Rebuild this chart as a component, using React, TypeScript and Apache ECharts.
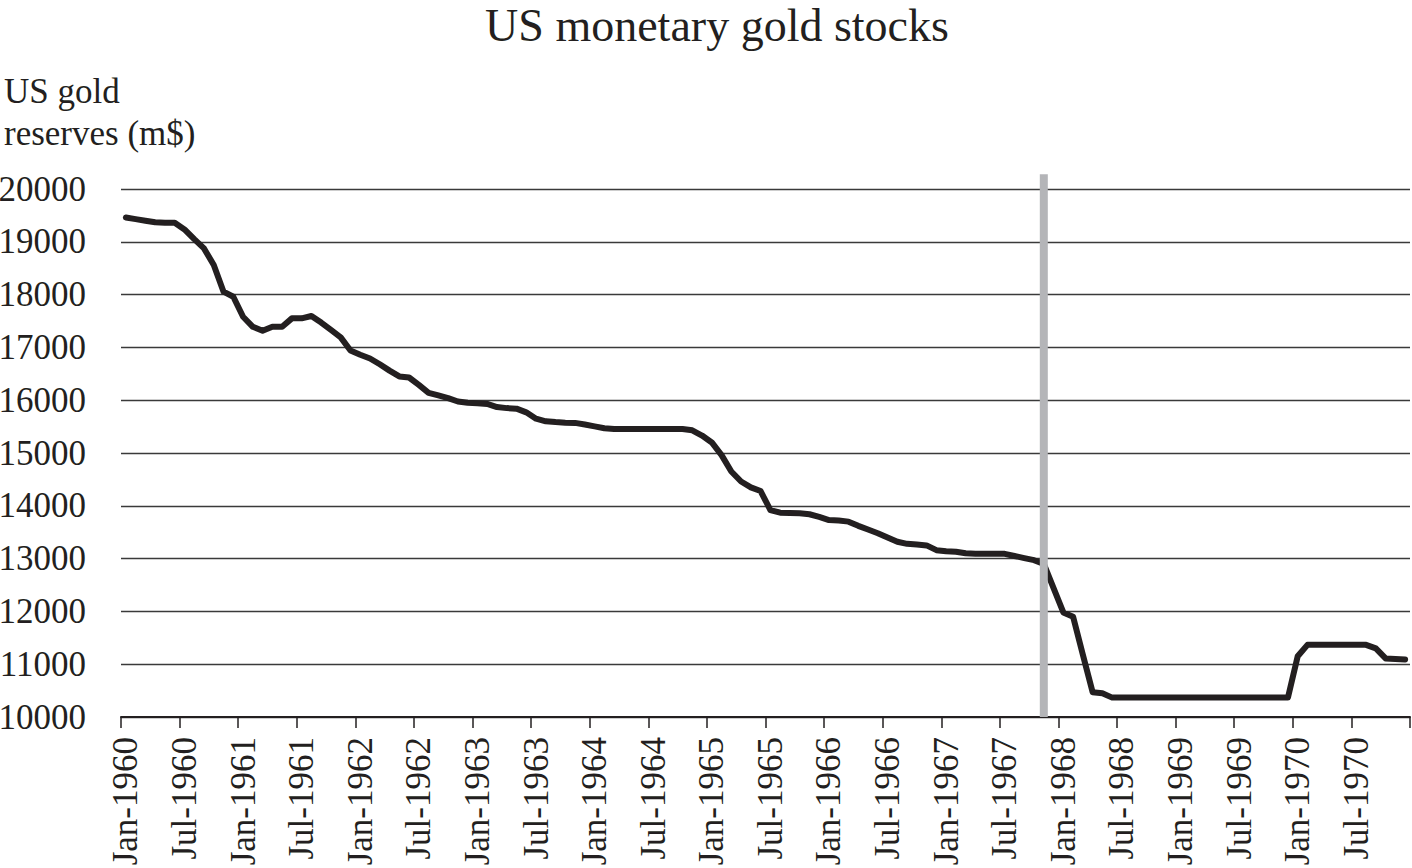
import React, { useEffect, useRef } from "react";
import * as echarts from "echarts";

const MONTHS = ["Jan", "Feb", "Mar", "Apr", "May", "Jun", "Jul", "Aug", "Sep", "Oct", "Nov", "Dec"];
const YEARS = [1960, 1961, 1962, 1963, 1964, 1965, 1966, 1967, 1968, 1969, 1970];

// US monetary gold stock, millions of US$, monthly
const GOLD_1960 = [19460, 19430, 19400, 19370, 19360, 19360, 19235, 19050, 18875, 18560, 18055, 17960];
const GOLD_1961 = [17580, 17390, 17315, 17390, 17390, 17550, 17550, 17595, 17470, 17330, 17190, 16940];
const GOLD_1962 = [16860, 16790, 16680, 16560, 16450, 16430, 16290, 16140, 16090, 16040, 15975, 15950];
const GOLD_1963 = [15940, 15930, 15870, 15850, 15840, 15770, 15650, 15600, 15585, 15575, 15570, 15540];
const GOLD_1964 = [15505, 15470, 15455, 15455, 15455, 15455, 15455, 15455, 15455, 15455, 15430, 15330];
const GOLD_1965 = [15200, 14960, 14650, 14460, 14350, 14280, 13920, 13870, 13865, 13860, 13840, 13790];
const GOLD_1966 = [13730, 13720, 13700, 13620, 13550, 13480, 13400, 13320, 13280, 13265, 13250, 13160];
const GOLD_1967 = [13140, 13130, 13100, 13090, 13090, 13090, 13090, 13050, 13010, 12970, 12900, 12440];
const GOLD_1968 = [11980, 11900, 11180, 10470, 10450, 10367, 10367, 10367, 10367, 10367, 10367, 10367];
const GOLD_1969 = [10367, 10367, 10367, 10367, 10367, 10367, 10367, 10367, 10367, 10367, 10367, 10367];
const GOLD_1970 = [11150, 11367, 11367, 11367, 11367, 11367, 11367, 11367, 11300, 11110, 11100, 11090];

// Y axis ticks
const Y_MIN = 10000;
const Y_MAX = 20000;
const Y_STEP = 1000;

// Vertical marker (sterling devaluation, Nov 1967): height above the axis floor, in m$
const MARKER_MONTH = "Nov-1967";
const MARKER_HEIGHT = 10280;

const TITLE = "US monetary gold stocks";
const Y_NAME = "US gold\nreserves (m$)";

const CATEGORIES = YEARS.flatMap((y) => MONTHS.map((m) => `${m}-${y}`));
const GOLD = [
  ...GOLD_1960, ...GOLD_1961, ...GOLD_1962, ...GOLD_1963, ...GOLD_1964, ...GOLD_1965,
  ...GOLD_1966, ...GOLD_1967, ...GOLD_1968, ...GOLD_1969, ...GOLD_1970,
];
const MARKER = CATEGORIES.map((c) => (c === MARKER_MONTH ? MARKER_HEIGHT : null));

const FONT = "'Liberation Serif', 'Times New Roman', serif";
const INK = "#231f20";

export default function App() {
  const ref = useRef<HTMLDivElement>(null);

  useEffect(() => {
    if (!ref.current) return;
    const chart = echarts.init(ref.current, null, { renderer: "svg" });
    chart.setOption({
      animation: false,
      backgroundColor: "#ffffff",
      textStyle: { fontFamily: FONT, color: INK },
      title: [
        {
          text: TITLE,
          left: 717,
          top: 0,
          textAlign: "center",
          padding: 0,
          textStyle: { fontFamily: FONT, fontSize: 46, lineHeight: 51, fontWeight: "normal", color: INK },
        },
        {
          text: Y_NAME,
          left: 4,
          top: 70,
          padding: 0,
          textStyle: { fontFamily: FONT, fontSize: 35, lineHeight: 42, fontWeight: "normal", color: INK },
        },
      ],
      grid: { left: 121, right: 2, top: 189, bottom: 151, containLabel: false, outerBoundsMode: "none" },
      xAxis: {
        type: "category",
        data: CATEGORIES,
        boundaryGap: true,
        axisLine: { show: true, lineStyle: { color: INK, width: 2 } },
        axisTick: { show: true, interval: 5, length: 11, lineStyle: { color: INK, width: 1.5 } },
        axisLabel: { interval: 5, rotate: 90, margin: 20, fontSize: 35, fontFamily: FONT, color: INK },
        splitLine: { show: false },
      },
      yAxis: [
        {
          type: "value",
          min: Y_MIN,
          max: Y_MAX,
          interval: Y_STEP,
          axisLine: { show: false },
          axisTick: { show: false },
          axisLabel: {
            fontSize: 35,
            margin: 35,
            fontFamily: FONT,
            color: INK,
            formatter: (v: number) => String(v),
          },
          splitLine: { show: true, lineStyle: { color: "#3a3a3a", width: 1.3 } },
        },
        {
          type: "value",
          min: 0,
          max: Y_MAX - Y_MIN,
          show: false,
          splitLine: { show: false },
        },
      ],
      series: [
        {
          type: "line",
          data: GOLD,
          symbol: "none",
          lineStyle: { color: INK, width: 6, join: "round", cap: "round" },
          z: 2,
        },
        {
          type: "bar",
          yAxisIndex: 1,
          data: MARKER,
          barWidth: 8,
          clip: false,
          itemStyle: { color: "#b4b5b8" },
          z: 3,
        },
      ],
    });
    return () => chart.dispose();
  }, []);

  return (
    <div
      ref={ref}
      style={{ position: "absolute", left: 0, top: 0, width: 1412, height: 868 }}
    />
  );
}
